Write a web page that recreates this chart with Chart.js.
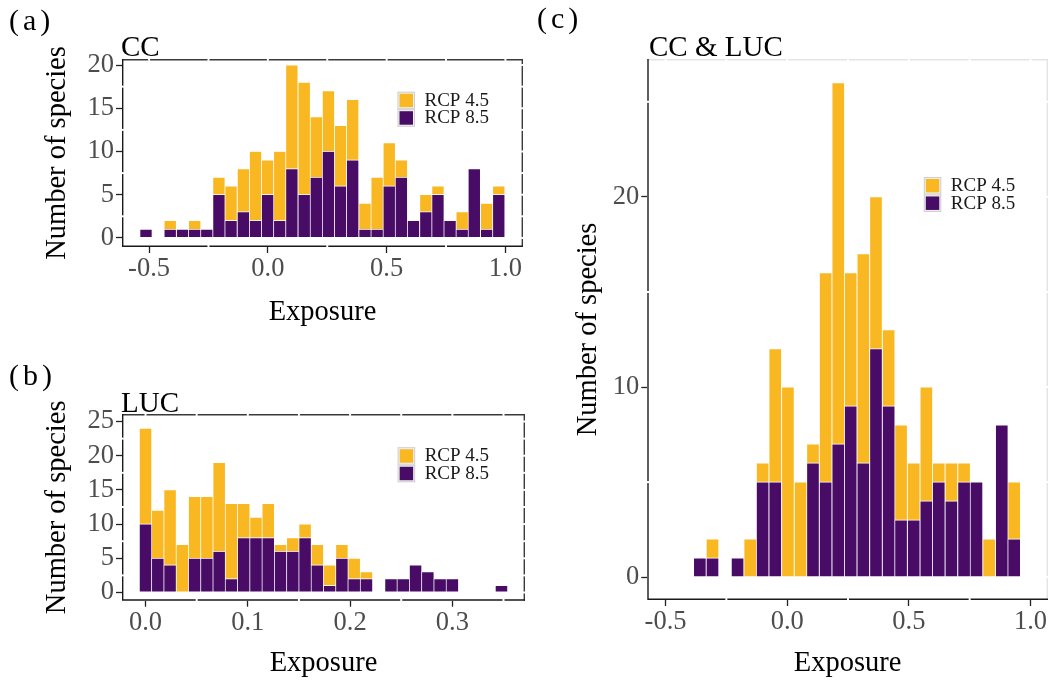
<!DOCTYPE html>
<html>
<head>
<meta charset="utf-8">
<script src="https://cdn.jsdelivr.net/npm/chart.js@4.4.1/dist/chart.umd.min.js"></script>
<style>
  html, body { margin: 0; padding: 0; background: #fff; }
  #wrap { position: relative; width: 1054px; height: 683px; overflow: hidden;
          font-family: "Liberation Serif", "Times New Roman", serif; color: #000; }
  canvas.panel { position: absolute; left: 0; top: 0; }
  .tag { position: absolute; font-size: 30px; line-height: 1; letter-spacing: 4px; white-space: nowrap; }
  .ttl { position: absolute; font-size: 29px; line-height: 1; white-space: nowrap; }
</style>
</head>
<body>
<div id="wrap">
  <canvas id="panelA" class="panel" width="1054" height="683"></canvas>
  <canvas id="panelB" class="panel" width="1054" height="683"></canvas>
  <canvas id="panelC" class="panel" width="1054" height="683"></canvas>
  <div class="tag" style="left:9px;top:5px">(a)</div>
  <div class="ttl" style="left:121px;top:32px">CC</div>
  <div class="tag" style="left:9px;top:360px">(b)</div>
  <div class="ttl" style="left:121px;top:388px">LUC</div>
  <div class="tag" style="left:537px;top:3px">(c)</div>
  <div class="ttl" style="left:649px;top:32px">CC &amp; LUC</div>
</div>
<script>
// ---- (a) CC: exposure histogram, bin centres and species counts per scenario
const ccBins = [-0.513, -0.462, -0.411, -0.359, -0.308, -0.257, -0.206, -0.155, -0.103, -0.052,
                -0.001, 0.050, 0.101, 0.153, 0.204, 0.255, 0.306, 0.357, 0.409, 0.460,
                0.511, 0.562, 0.613, 0.665, 0.716, 0.767, 0.818, 0.869, 0.921, 0.972];
const ccRcp45 = [0, 0, 1, 0, 1, 0, 2, 4, 5, 8, 4, 8, 12, 13, 7, 7, 7, 7, 3, 6, 5, 2, 0, 2, 1, 0, 2, 0, 3, 1];
const ccRcp85 = [1, 0, 1, 1, 1, 1, 5, 2, 3, 2, 5, 2, 8, 5, 7, 10, 6, 9, 1, 1, 6, 7, 2, 3, 5, 2, 1, 8, 1, 5];

// ---- (b) LUC
const lucBins = [0.000, 0.012, 0.024, 0.036, 0.048, 0.060, 0.072, 0.084, 0.096, 0.108,
                 0.120, 0.132, 0.144, 0.156, 0.168, 0.180, 0.192, 0.204, 0.216, 0.228,
                 0.240, 0.252, 0.264, 0.276, 0.288, 0.300, 0.312, 0.324, 0.336, 0.348];
const lucRcp45 = [14, 7, 11, 7, 9, 9, 13, 11, 5, 3, 5, 1, 2, 2, 3, 3, 2, 3, 1, 0, 0, 0, 0, 0, 0, 0, 0, 0, 0, 0];
const lucRcp85 = [10, 5, 4, 0, 5, 5, 6, 2, 8, 8, 8, 6, 6, 8, 4, 1, 5, 2, 2, 0, 2, 2, 4, 3, 2, 2, 0, 0, 0, 1];

// ---- (c) CC & LUC
const bothBins = [-0.359, -0.307, -0.256, -0.204, -0.152, -0.101, -0.049, 0.003, 0.055, 0.106,
                  0.158, 0.210, 0.261, 0.313, 0.365, 0.417, 0.468, 0.520, 0.572, 0.623,
                  0.675, 0.727, 0.778, 0.830, 0.882, 0.933];
const bothRcp45 = [0, 1, 0, 0, 2, 1, 7, 10, 5, 1, 11, 19, 7, 11, 8, 4, 5, 3, 6, 1, 2, 1, 0, 2, 0, 3];
const bothRcp85 = [1, 1, 0, 1, 0, 5, 5, 0, 0, 6, 5, 7, 9, 6, 12, 9, 3, 3, 4, 5, 4, 5, 5, 0, 8, 2];

// ---- axis breaks and tick labels
const exposureMajor = [-0.5, 0, 0.5, 1.0];
const exposureMinor = [-0.25, 0.25, 0.75];
const exposureLabels = ['-0.5', '0.0', '0.5', '1.0'];
const lucMajor = [0, 0.1, 0.2, 0.3];
const lucMinor = [0.05, 0.15, 0.25, 0.35];
const lucLabels = ['0.0', '0.1', '0.2', '0.3'];
const ccCountMajor = [0, 5, 10, 15, 20];
const ccCountMinor = [2.5, 7.5, 12.5, 17.5];
const lucCountMajor = [0, 5, 10, 15, 20, 25];
const lucCountMinor = [2.5, 7.5, 12.5, 17.5, 22.5];
const bothCountMajor = [0, 10, 20];
const bothCountMinor = [5, 15, 25];

const SERIF = '"Liberation Serif", "Times New Roman", serif';
const GOLD = '#F9B822';
const PURPLE = '#480C66';

const near = (a, b) => Math.abs(a - b) < 1e-9;
const inList = (list, v) => list.some(m => near(m, v));

// panel frame: axis lines on left/bottom, thin border on top/right,
// broken by white strokes where the grid breaks cross it
const frame = {
  id: 'frame',
  beforeDatasetsDraw(chart, args, o) {
    const { ctx, chartArea: a, scales: { x, y } } = chart;
    const w = 1.4, h = w / 2;
    ctx.save();
    ctx.lineWidth = w;
    ctx.strokeStyle = o.edge;
    ctx.beginPath();
    ctx.moveTo(a.left, a.top + h); ctx.lineTo(a.right - h, a.top + h); ctx.lineTo(a.right - h, a.bottom);
    ctx.stroke();
    ctx.strokeStyle = o.axis;
    ctx.beginPath();
    ctx.moveTo(a.left + h, a.top); ctx.lineTo(a.left + h, a.bottom - h); ctx.lineTo(a.right, a.bottom - h);
    ctx.stroke();
    ctx.strokeStyle = '#fff';
    ctx.lineWidth = 2;
    x.ticks.forEach(t => {
      const p = x.getPixelForValue(t.value);
      ctx.beginPath(); ctx.moveTo(p, a.top - 0.5); ctx.lineTo(p, a.top + w + 0.5); ctx.stroke();
      if (t.minor) { ctx.beginPath(); ctx.moveTo(p, a.bottom - w - 0.5); ctx.lineTo(p, a.bottom + 0.5); ctx.stroke(); }
    });
    y.ticks.forEach(t => {
      const p = y.getPixelForValue(t.value);
      ctx.beginPath(); ctx.moveTo(a.right - w - 0.5, p); ctx.lineTo(a.right + 0.5, p); ctx.stroke();
      if (t.minor) { ctx.beginPath(); ctx.moveTo(a.left - 0.5, p); ctx.lineTo(a.left + w + 0.5, p); ctx.stroke(); }
    });
    ctx.restore();
  }
};

// legend with boxed keys placed inside the panel
const keyLegend = {
  id: 'keyLegend',
  afterDatasetsDraw(chart, args, o) {
    const { ctx, chartArea: a } = chart;
    const x0 = a.left + o.fx * (a.right - a.left);
    const y0 = a.top + o.fy * (a.bottom - a.top);
    const cell = 17.5;
    const items = chart.data.datasets.slice().reverse();
    ctx.save();
    items.forEach((ds, i) => {
      const y = y0 + i * cell;
      ctx.fillStyle = '#f2f2f2';
      ctx.fillRect(x0, y, cell, cell);
      ctx.strokeStyle = '#cfcfcf';
      ctx.lineWidth = 1;
      ctx.strokeRect(x0 + 0.5, y + 0.5, cell - 1, cell - 1);
      ctx.fillStyle = ds.backgroundColor;
      ctx.fillRect(x0 + 2, y + 2, cell - 4, cell - 4);
      ctx.fillStyle = '#1a1a1a';
      ctx.font = '19px ' + SERIF;
      ctx.textBaseline = 'middle';
      ctx.textAlign = 'left';
      ctx.fillText(ds.label, x0 + 27, y + cell / 2 + 0.5);
    });
    ctx.restore();
  }
};

function axisOptions(o) {
  return {
    type: 'linear',
    position: o.position,
    stacked: true,
    min: o.min,
    max: o.max,
    offset: false,
    afterBuildTicks: s => {
      s.ticks = o.major.concat(o.minor).sort((p, q) => p - q)
        .map(v => ({ value: v, minor: !inList(o.major, v) }));
    },
    afterFit: o.fit,
    ticks: {
      autoSkip: false, maxRotation: 0, minRotation: 0,
      padding: o.pad, color: '#4d4d4d',
      font: { family: SERIF, size: 26.5 },
      callback: v => {
        const i = o.major.findIndex(m => near(m, v));
        return i < 0 ? '' : o.labels[i];
      }
    },
    grid: {
      offset: false,
      drawOnChartArea: false,
      color: 'rgba(0,0,0,0)',
      tickLength: 6,
      tickWidth: 1.3,
      tickColor: c => (c.tick && inList(o.major, c.tick.value)) ? '#222' : 'rgba(0,0,0,0)'
    },
    border: { display: false },
    title: { display: true, text: o.title, color: '#000', font: { family: SERIF, size: 28.5 }, padding: 0 }
  };
}

function histogram(id, p) {
  const barStyle = { borderColor: 'rgba(255,255,255,0.65)', borderWidth: 0.7, borderSkipped: false,
                     barPercentage: 1, categoryPercentage: 1 };
  return new Chart(document.getElementById(id), {
    type: 'bar',
    data: {
      datasets: [
        Object.assign({ label: 'RCP 8.5', backgroundColor: PURPLE,
          data: p.bins.map((b, i) => ({ x: b, y: p.rcp85[i] || null })) }, barStyle),
        Object.assign({ label: 'RCP 4.5', backgroundColor: GOLD,
          data: p.bins.map((b, i) => ({ x: b, y: p.rcp45[i] || null })) }, barStyle)
      ]
    },
    options: {
      responsive: false,
      animation: false,
      events: [],
      layout: { padding: p.padding },
      plugins: {
        legend: { display: false },
        tooltip: { enabled: false },
        frame: { edge: p.edge, axis: '#1a1a1a' },
        keyLegend: { fx: p.fx, fy: p.fy }
      },
      scales: {
        x: axisOptions({ position: 'bottom', min: p.xMin, max: p.xMax, major: p.xMajor, minor: p.xMinor,
                         labels: p.xLabels, pad: 0, title: 'Exposure', fit: s => { s.height = p.xH; } }),
        y: axisOptions({ position: 'left', min: p.yMin, max: p.yMax, major: p.yMajor, minor: p.yMinor,
                         labels: p.yMajor.map(String), pad: 2, title: 'Number of species',
                         fit: s => { s.width = p.yW; } })
      }
    },
    plugins: [frame, keyLegend]
  });
}

histogram('panelA', {
  bins: ccBins, rcp45: ccRcp45, rcp85: ccRcp85,
  xMin: -0.614, xMax: 1.074, xMajor: exposureMajor, xMinor: exposureMinor, xLabels: exposureLabels,
  yMin: -1.05, yMax: 20.7, yMajor: ccCountMajor, yMinor: ccCountMinor,
  padding: { left: 40, top: 59, right: 531, bottom: 353 }, yW: 82, xH: 83,
  fx: 0.687, fy: 0.174, edge: '#3a3a3a'
});

histogram('panelB', {
  bins: lucBins, rcp45: lucRcp45, rcp85: lucRcp85,
  xMin: -0.023, xMax: 0.371, xMajor: lucMajor, xMinor: lucMinor, xLabels: lucLabels,
  yMin: -1.2, yMax: 26.1, yMajor: lucCountMajor, yMinor: lucCountMinor,
  padding: { left: 40, top: 414, right: 529, bottom: 2.3 }, yW: 82, xH: 80,
  fx: 0.684, fy: 0.178, edge: '#3a3a3a'
});

histogram('panelC', {
  bins: bothBins, rcp45: bothRcp45, rcp85: bothRcp85,
  xMin: -0.575, xMax: 1.072, xMajor: exposureMajor, xMinor: exposureMinor, xLabels: exposureLabels,
  yMin: -1.2, yMax: 27.25, yMajor: bothCountMajor, yMinor: bothCountMinor,
  padding: { left: 571, top: 59, right: 6, bottom: 2.2 }, yW: 76.3, xH: 80.8,
  fx: 0.69, fy: 0.218, edge: '#e4e4e4'
});
</script>
</body>
</html>
